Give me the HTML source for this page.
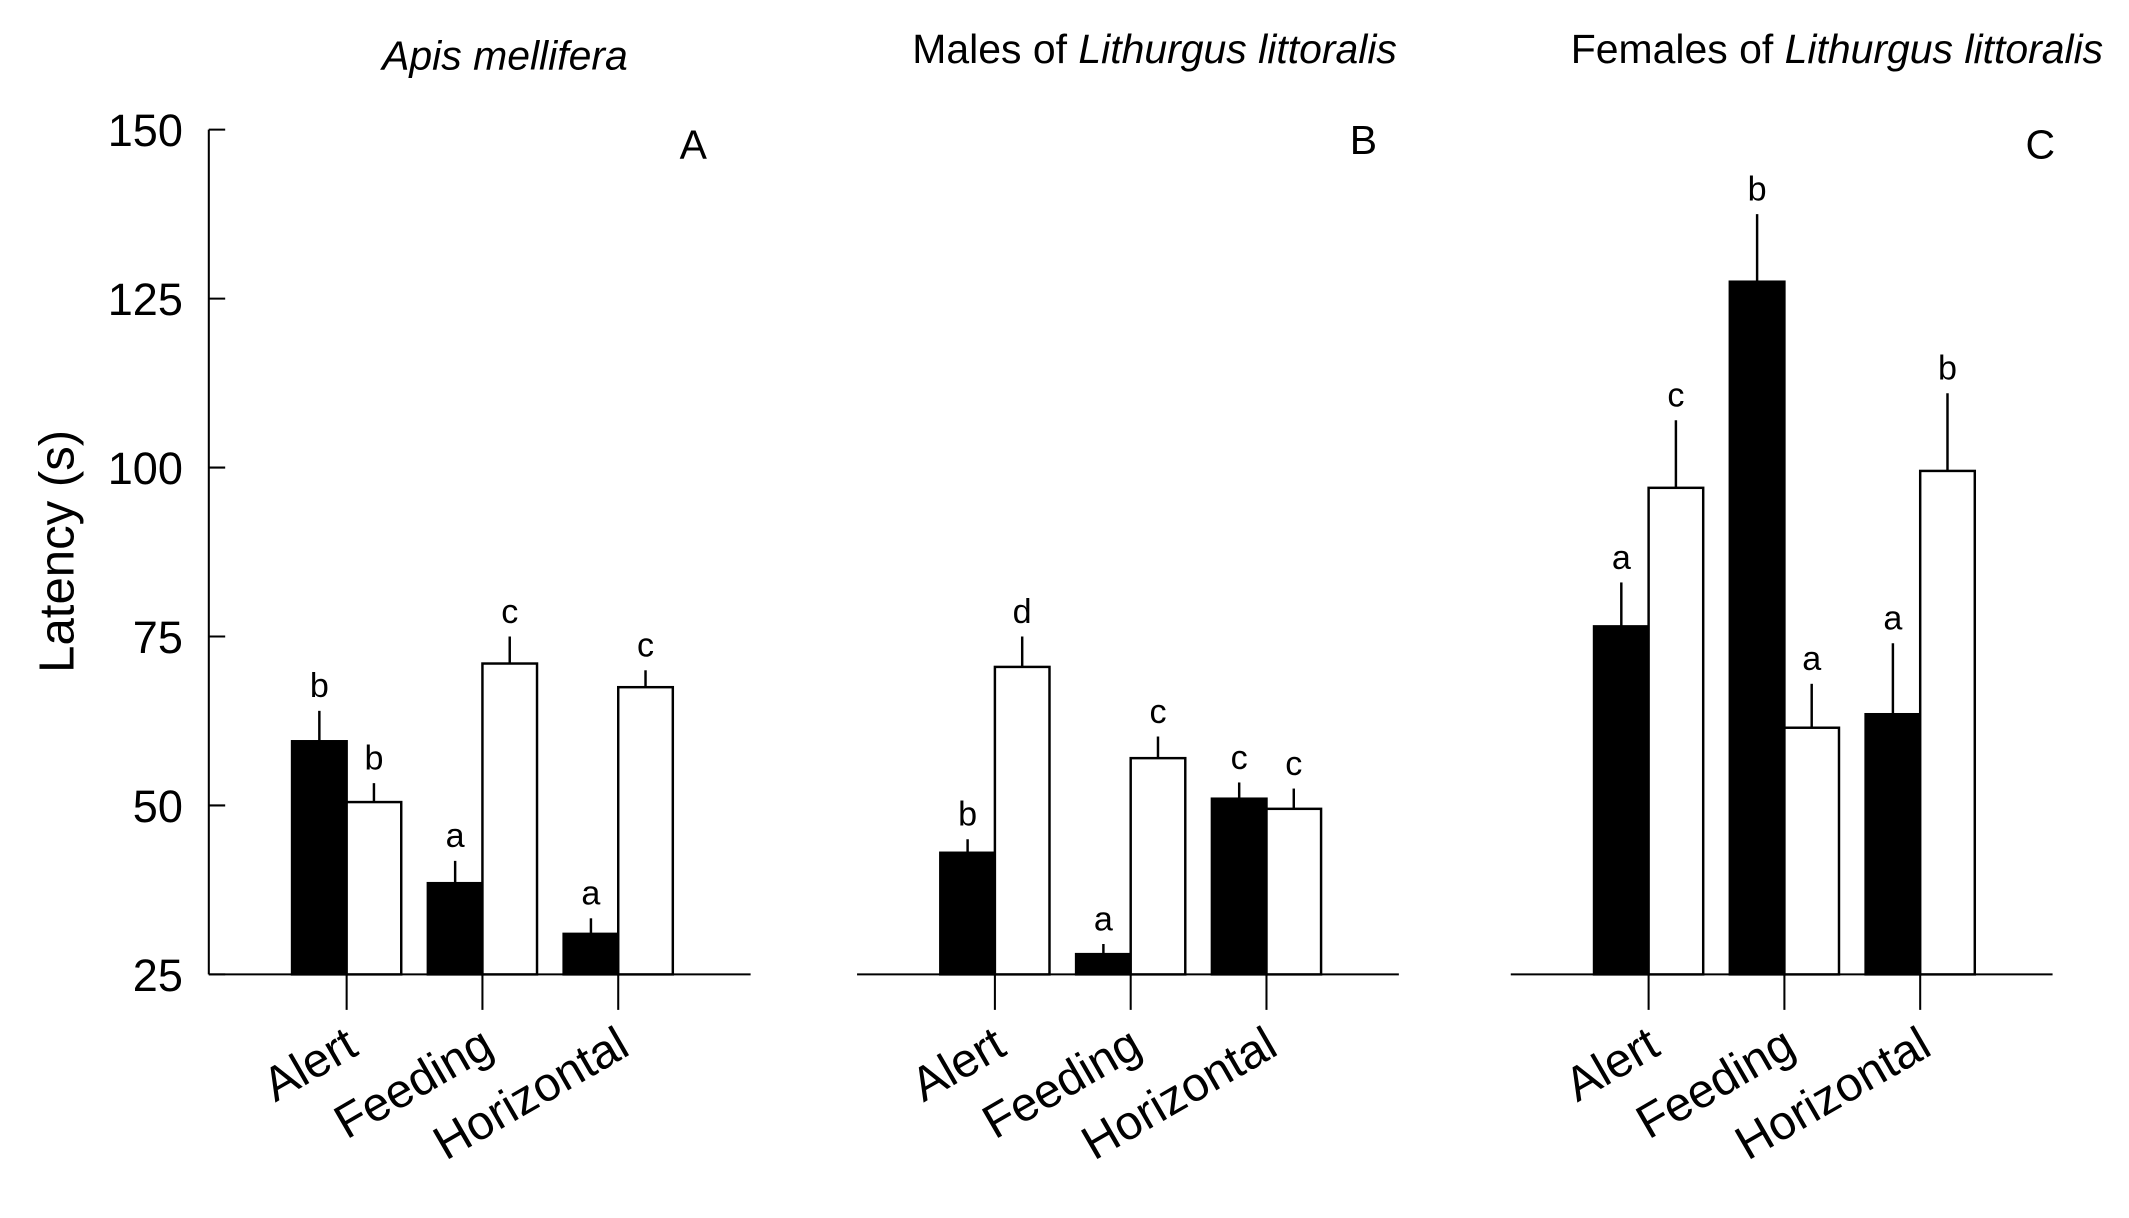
<!DOCTYPE html>
<html><head><meta charset="utf-8"><style>
html,body{margin:0;padding:0;background:#fff;}
svg{display:block;}
text{font-family:"Liberation Sans",Arial,sans-serif;fill:#000;}
</style></head><body>
<svg id="chart" width="2129" height="1218" viewBox="0 0 1560 892.5" preserveAspectRatio="none" xmlns="http://www.w3.org/2000/svg">
<text transform="translate(54,404) rotate(-90)" text-anchor="middle" font-size="36">Latency (s)</text>
</svg>
<script>
const categories = ["Alert","Feeding","Horizontal"];
const panelTitles = ["Apis mellifera","Males of Lithurgus littoralis","Females of Lithurgus littoralis"];
const panelLetters = ["A","B","C"];
const blackValues = [[59.5,38.5,31],[43,28,51],[76.5,127.5,63.5]];
const blackErrors = [[64,41.8,33.3],[45,29.5,53.4],[83,137.5,74]];
const whiteValues = [[50.5,71,67.5],[70.5,57,49.5],[97,61.5,99.5]];
const whiteErrors = [[53.3,75,70],[75,60.2,52.5],[107,68,111]];
const blackLetters = [["b","a","a"],["b","a","c"],["a","b","a"]];
const whiteLetters = [["b","c","c"],["d","c","c"],["c","a","b"]];
const yTicks = [25,50,75,100,125,150];

const svg = document.getElementById('chart');
const NS = 'http://www.w3.org/2000/svg';
const yMin = 25, yMax = 150, yBase = 714, yTop = 95;
function yScale(v){ return yBase - (v - yMin) / (yMax - yMin) * (yBase - yTop); }
const panelX = [153, 628, 1107];
const panelW = 397;
function xCat(p, i){ return panelX[p] + 101 + i * 99.5; }
function mk(tag, attrs){ const e = document.createElementNS(NS, tag); for (const k in attrs) e.setAttribute(k, attrs[k]); svg.appendChild(e); return e; }

let yAxis = mk('line', {x1:153, y1:yTop, x2:153, y2:yBase, stroke:'#000', 'stroke-width':1.5});


yTicks.forEach(t => {
  const tk = mk('line', {x1:153, y1:yScale(t), x2:165, y2:yScale(t), stroke:'#000', 'stroke-width':1.5});
  
  
  const lb = mk('text', {x:134, y:yScale(t) + 12, 'text-anchor':'end', 'font-size':33});
  lb.textContent = t;
  
  
});

const titleCenters = [370, 846, 1346];
panelTitles.forEach((title, p) => {
  const base = panelX[p];
  const ax = mk('line', {x1:base, y1:yBase, x2:base + panelW, y2:yBase, stroke:'#000', 'stroke-width':1.5});
  
  

  const tt = mk('text', {x:titleCenters[p], y:p === 0 ? 51 : 46, 'text-anchor':'middle', 'font-size':30});
  if (p === 0) { tt.innerHTML = '<tspan font-style="italic">Apis mellifera</tspan>'; }
  else { const pre = p === 1 ? 'Males of ' : 'Females of '; tt.innerHTML = pre + '<tspan font-style="italic">Lithurgus littoralis</tspan>'; }
  
  

  const pl = mk('text', {x:[508,999,1495][p], y:[116,113,116][p], 'text-anchor':'middle', 'font-size':30});
  pl.textContent = panelLetters[p];
  
  

  categories.forEach((cat, i) => {
    const cx = xCat(p, i);
    const series = [[blackValues, blackErrors, blackLetters, '#000', cx - 40], [whiteValues, whiteErrors, whiteLetters, '#fff', cx]];
    series.forEach(([vals, errs, lets, fill, x0], s) => {
      const v = vals[p][i], e = errs[p][i];
      const yv = yScale(v), ye = yScale(e);
      const ex = x0 + 20;
      const el = mk('line', {x1:ex, y1:yv, x2:ex, y2:ye, stroke:'#000', 'stroke-width':1.8});
      
      
      const r = mk('rect', {x:x0, y:yv, width:40, height:yBase - yv, fill:fill, stroke:'#000', 'stroke-width':1.8});
      
      
      const lt = mk('text', {x:ex, y:ye - 10, 'text-anchor':'middle', 'font-size':25});
      lt.textContent = lets[p][i];
      
      
    });
    const tk = mk('line', {x1:cx, y1:yBase, x2:cx, y2:yBase + 26, stroke:'#000', 'stroke-width':1.5});
    
    
    const lx = cx + 10, ly = 772;
    const lb = mk('text', {x:lx, y:ly, 'text-anchor':'end', 'font-size':35, transform:'rotate(-30 ' + lx + ' ' + ly + ')'});
    lb.textContent = cat;
    
    
  });
});
</script>
</body></html>
